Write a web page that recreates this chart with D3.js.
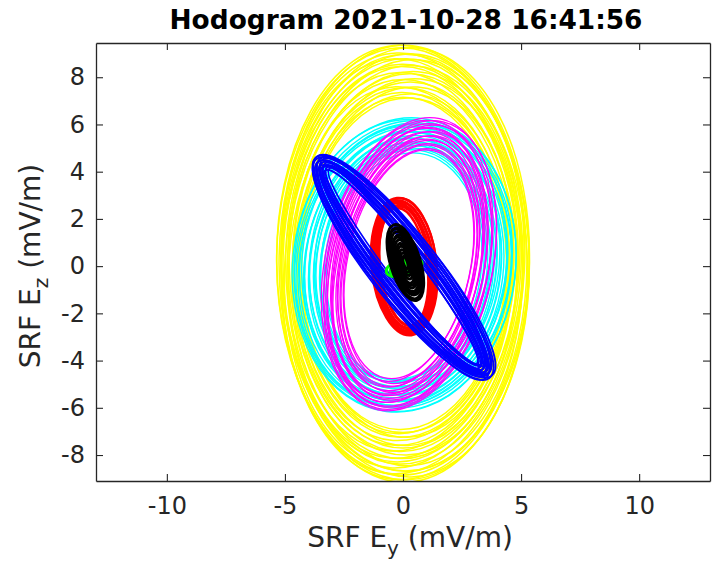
<!DOCTYPE html>
<html><head><meta charset="utf-8">
<script src="https://cdn.jsdelivr.net/npm/d3@7"></script>
<style>html,body{margin:0;padding:0;background:#fff;} svg{display:block;}</style>
</head><body><svg id="c" width="712" height="565"></svg>
<script>
// Each loop: [centre Ey, centre Ez, semi-axis along tilt, other semi-axis, tilt (deg from Ey axis)]
const yellowLoops = [
  [0.05,0.10,9.25,5.30,90],[0.00,0.15,9.20,5.35,91],[0.10,0.10,9.15,5.25,88],
  [-0.05,0.20,9.05,5.30,90],[0.05,0.05,8.98,5.22,92],[0.00,0.10,8.90,5.15,87],
  [0.10,0.15,8.82,5.25,90],[-0.05,0.05,8.74,5.10,92],[0.05,0.10,8.66,5.05,86],
  [0.00,0.20,8.58,5.08,89],[0.10,0.05,8.50,4.98,91],[0.05,0.10,8.40,4.95,87],
  [-0.05,0.15,8.30,4.92,90],[0.05,0.05,8.20,4.88,86],[0.00,0.10,8.10,4.82,91],
  [0.10,0.15,8.00,4.78,88],[0.05,0.05,7.90,4.72,85],[0.00,0.10,7.80,4.68,90],
  [0.05,0.10,7.70,4.64,87],[-0.05,0.00,7.60,4.60,92],[0.10,0.10,7.50,4.55,86],
  [0.00,0.15,7.40,4.50,89],[0.05,0.05,7.30,4.46,91],[0.05,0.10,7.20,4.42,87],
  [0.00,0.05,7.10,4.38,90],[0.05,0.10,7.02,4.34,88]
];
const cyanLoops = [
  [0.05,0.05,6.25,4.72,83],[0.10,0.00,6.18,4.66,82],[0.00,0.10,6.12,4.60,85],
  [0.05,0.05,6.05,4.53,80],[0.10,0.05,5.98,4.46,83],[0.00,0.00,5.92,4.40,81],
  [0.05,0.10,5.85,4.33,85],[0.10,0.05,5.78,4.26,80],[0.05,0.00,5.72,4.20,83],
  [0.00,0.05,5.65,4.13,82],[0.10,0.10,5.58,4.06,84],[0.05,0.05,5.52,4.00,80],
  [0.00,0.00,5.45,3.93,83],[0.10,0.05,5.38,3.86,82],[0.05,0.10,5.32,3.80,85],
  [0.05,0.05,5.25,3.73,81],[0.00,0.05,5.18,3.66,83],[0.10,0.00,5.12,3.60,82],
  [0.05,0.10,5.05,3.52,84],[0.00,0.05,4.98,3.45,81],[0.05,0.05,4.90,3.36,83],
  [0.05,0.00,4.82,3.26,82]
];
const magentaLoops = [
  [0.25,0.08,6.30,3.55,78],[0.30,0.05,6.22,3.48,77],[0.20,0.10,6.15,3.42,79],
  [0.25,0.05,6.07,3.36,78],[0.30,0.10,5.99,3.30,76],[0.20,0.05,5.91,3.24,78],
  [0.25,0.08,5.83,3.18,79],[0.30,0.05,5.75,3.12,77],[0.20,0.10,5.67,3.06,78],
  [0.25,0.05,5.59,3.00,76],[0.30,0.08,5.50,2.94,79],[0.20,0.05,5.41,2.88,78],
  [0.25,0.10,5.32,2.82,77],[0.25,0.05,5.22,2.76,78],[0.30,0.08,5.12,2.70,79],
  [0.20,0.05,5.02,2.65,77],[0.25,0.08,4.92,2.60,78]
];
const redLoops = [
  [0.05,-0.02,2.92,1.38,96],[0.07,0.00,2.88,1.34,95],[0.03,-0.04,2.84,1.30,97],
  [0.05,-0.02,2.79,1.26,96],[0.07,-0.02,2.74,1.22,95],[0.03,0.00,2.69,1.18,97],
  [0.05,-0.04,2.64,1.14,96],[0.05,-0.02,2.59,1.10,95],[0.07,0.00,2.54,1.05,96],
  [0.03,-0.02,2.50,1.00,97]
];
const blueLoops = [
  [0.00,-0.05,5.95,1.42,128],[0.05,-0.05,5.90,1.38,129],[-0.05,0.00,5.86,1.34,128],
  [0.00,-0.10,5.82,1.30,127],[0.05,0.00,5.78,1.26,128],[0.00,-0.05,5.74,1.22,129],
  [-0.05,-0.05,5.70,1.18,128],[0.00,0.00,5.66,1.14,127],[0.05,-0.05,5.62,1.10,128],
  [0.00,-0.10,5.58,1.06,129],[-0.05,0.00,5.54,1.02,128],[0.00,-0.05,5.50,0.98,127],
  [0.05,-0.05,5.46,0.94,128],[0.00,0.00,5.42,0.90,129],[-0.05,-0.05,5.38,0.86,128],
  [0.00,-0.05,5.34,0.82,127],[0.05,0.00,5.30,0.78,128],[0.00,-0.05,5.26,0.74,129],
  [-0.05,-0.05,5.22,0.70,128],[0.00,0.00,5.18,0.66,127]
];
const greenLoops = [
  [0.05,-0.05,0.78,0.36,15],[0.05,-0.05,0.62,0.27,17],[0.05,-0.05,0.45,0.18,15],[0.05,-0.05,0.28,0.10,15]
];
const blackLoops = [
  [0.10,0.15,1.67,0.63,107],[0.12,0.12,1.56,0.58,106],[0.08,0.18,1.46,0.53,108],
  [0.10,0.15,1.36,0.48,107],[0.12,0.12,1.24,0.44,106],[0.08,0.15,1.12,0.40,108],
  [0.10,0.15,1.00,0.35,107],[0.10,0.12,0.87,0.30,106],[0.10,0.15,0.72,0.25,107],
  [0.10,0.15,0.57,0.19,107],[0.10,0.15,0.42,0.14,107],[0.10,0.15,0.27,0.09,107]
];
const xTicks = [-10, -5, 0, 5, 10];
const yTicks = [-8, -6, -4, -2, 0, 2, 4, 6, 8];
const xDomain = [-13, 13];
const yDomain = [-9.1, 9.45];
const titleText = "Hodogram 2021-10-28 16:41:56";

const svg = d3.select("#c");
const L = 96, R = 710, T = 43, B = 481;
const x = d3.scaleLinear(xDomain, [L, R]);
const y = d3.scaleLinear(yDomain, [B, T]);
const font = "DejaVu Sans, sans-serif";
const axCol = "#262626";

svg.append("defs").append("clipPath").attr("id","clip")
  .append("rect").attr("x",L).attr("y",T).attr("width",R-L).attr("height",B-T);
const g = svg.append("g").attr("clip-path","url(#clip)");

function drawSeries(data, color, width) {
  g.append("g").selectAll("ellipse").data(data).join("ellipse")
    .attr("transform", d => `translate(${x(d[0])},${y(d[1])}) rotate(${-d[4]})`)
    .attr("rx", d => x(d[2]) - x(0))
    .attr("ry", d => y(0) - y(d[3]))
    .attr("fill","none").attr("stroke",color).attr("stroke-width",width);
}
drawSeries(yellowLoops, "#ffff00", 1.5);
drawSeries(cyanLoops, "#00ffff", 1.4);
drawSeries(magentaLoops, "#ff00ff", 1.3);
drawSeries(redLoops, "#ff0000", 2.4);
drawSeries(blueLoops, "#0000ff", 1.7);
drawSeries(greenLoops, "#00ff00", 3);
drawSeries(blackLoops, "#000000", 3);

function styleAxis(sel) {
  sel.select(".domain").attr("stroke", axCol).attr("stroke-width", 1.3);
  sel.selectAll(".tick line").attr("stroke", axCol).attr("stroke-width", 1.1);
  sel.selectAll(".tick text").attr("fill", axCol).attr("font-family", font).attr("font-size", 24);
}
svg.append("g").attr("transform",`translate(0,${B})`)
  .call(d3.axisBottom(x).tickValues(xTicks).tickSize(-7).tickSizeOuter(0).tickPadding(16).tickFormat(d3.format("d")))
  .call(styleAxis);
svg.append("g").attr("transform",`translate(0,${T})`)
  .call(d3.axisTop(x).tickValues(xTicks).tickSize(-7).tickSizeOuter(0).tickFormat(""))
  .call(styleAxis);
svg.append("g").attr("transform",`translate(${L},0)`)
  .call(d3.axisLeft(y).tickValues(yTicks).tickSize(-7).tickSizeOuter(0).tickPadding(11).tickFormat(d3.format("d")))
  .call(styleAxis);
svg.append("g").attr("transform",`translate(${R},0)`)
  .call(d3.axisRight(y).tickValues(yTicks).tickSize(-7).tickSizeOuter(0).tickFormat(""))
  .call(styleAxis);
svg.selectAll(".tick text").text(function(){ return this.textContent.replace("−","-"); });

svg.append("text").attr("x", 406).attr("y", 29).attr("text-anchor","middle")
  .attr("font-family", font).attr("font-weight","bold").attr("font-size", 26.4).attr("fill","#000")
  .text(titleText);

const xl = svg.append("text").attr("x", 410).attr("y", 547).attr("text-anchor","middle")
  .attr("font-family", font).attr("font-size", 28).attr("fill", axCol);
xl.append("tspan").text("SRF E");
xl.append("tspan").attr("font-size", 20).attr("dy", 8).text("y");
xl.append("tspan").attr("dy", -8).text(" (mV/m)");

const yl = svg.append("text").attr("transform","translate(40,266) rotate(-90)").attr("text-anchor","middle")
  .attr("font-family", font).attr("font-size", 28).attr("fill", axCol);
yl.append("tspan").text("SRF E");
yl.append("tspan").attr("font-size", 20).attr("dy", 8).text("z");
yl.append("tspan").attr("dy", -8).text(" (mV/m)");
</script></body></html>
